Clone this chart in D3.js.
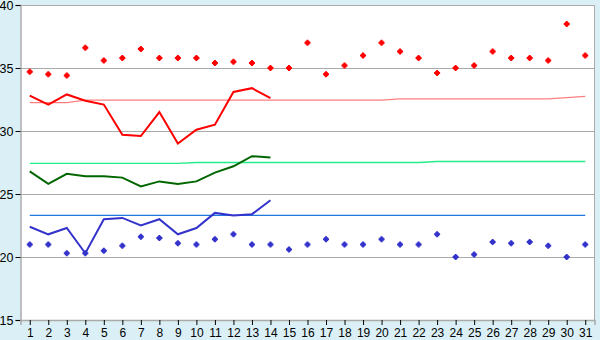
<!DOCTYPE html>
<html><head><meta charset="utf-8">
<script src="https://cdn.jsdelivr.net/npm/d3@7"></script>
<style>html,body{margin:0;padding:0;background:#daf0f6;}svg{display:block;}</style>
</head><body>
<svg id="c" width="600" height="340"></svg>
<script>
const days = d3.range(1, 32);
const maxTemp = [34.7,34.5,34.4,36.6,35.6,35.8,36.5,35.8,35.8,35.8,35.4,35.5,35.4,35.0,35.0,37.0,34.5,35.2,36.0,37.0,36.3,35.8,34.6,35.0,35.2,36.3,35.8,35.8,35.6,38.5,36.0];
const minTemp = [21.0,21.0,20.3,20.3,20.5,20.9,21.6,21.5,21.1,21.0,21.4,21.8,21.0,21.0,20.6,21.0,21.4,21.0,21.0,21.4,21.0,21.0,21.8,20.0,20.2,21.2,21.1,21.2,20.9,20.0,21.0];
const avgMax = [32.8,32.1,32.9,32.4,32.1,29.7,29.6,31.5,29.0,30.1,30.5,33.1,33.4,32.6];
const avgMean = [26.8,25.8,26.6,26.4,26.4,26.3,25.6,26.0,25.8,26.0,26.7,27.2,28.0,27.9];
const avgMin = [22.4,21.8,22.3,20.3,23.0,23.1,22.5,23.0,21.8,22.3,23.5,23.3,23.4,24.5];
const normMax = [32.25,32.25,32.25,32.45,32.45,32.45,32.45,32.45,32.45,32.45,32.45,32.45,32.45,32.45,32.45,32.45,32.45,32.45,32.45,32.45,32.55,32.55,32.55,32.55,32.55,32.55,32.55,32.55,32.55,32.65,32.75];
const normMean = [27.43,27.43,27.43,27.43,27.43,27.43,27.43,27.43,27.43,27.5,27.5,27.5,27.5,27.5,27.5,27.5,27.5,27.5,27.5,27.5,27.5,27.5,27.58,27.58,27.58,27.58,27.58,27.58,27.58,27.58,27.58];
const normMin = days.map(() => 23.3);
const yTicks = [15,20,25,30,35,40];

const svg = d3.select("#c");
const L = 20.5, R = 594.5, T = 5, B = 320;
const x = d3.scaleLinear().domain([0.5, 31.5]).range([L, R]);
const y = d3.scaleLinear().domain([15, 40]).range([B, T]);
const font = "Liberation Sans, Arial, sans-serif";

svg.append("rect").attr("x", L).attr("y", T).attr("width", R - L).attr("height", B - T).attr("fill", "#fff");

// grid
svg.append("g").selectAll("line").data(yTicks.filter(d => d > 15)).join("line")
  .attr("x1", L).attr("x2", R).attr("y1", d => Math.round(y(d)) + 0.5).attr("y2", d => Math.round(y(d)) + 0.5)
  .attr("stroke", "#aaaaaa").attr("stroke-width", 1).attr("shape-rendering", "crispEdges");
// right border
svg.append("line").attr("x1", R).attr("x2", R).attr("y1", T).attr("y2", B)
  .attr("stroke", "#aaaaaa").attr("stroke-width", 1.5).attr("shape-rendering", "crispEdges");

// axes
const yAxis = d3.axisLeft(y).tickValues(yTicks).tickSize(5).tickPadding(2).tickFormat(d3.format("d"));
const gy = svg.append("g").attr("transform", `translate(${L},0)`).call(yAxis);
gy.select(".domain").attr("stroke", "#aaaaaa").attr("stroke-width", 1.5);
gy.selectAll(".tick line").attr("stroke", "#000");
gy.selectAll("text").attr("font-family", font).attr("font-size", 12.5).attr("fill", "#000");

const xAxis = d3.axisBottom(x).tickValues(days).tickSize(5).tickPadding(3).tickFormat(d3.format("d"));
const gx = svg.append("g").attr("transform", `translate(0,${B})`).call(xAxis);
gx.select(".domain").attr("stroke", "#aaaaaa").attr("stroke-width", 1.5);
gx.selectAll(".tick line").attr("stroke", "#000");
gx.selectAll("text").attr("font-family", font).attr("font-size", 12).attr("fill", "#000");

const line = d3.line().x((d, i) => x(i + 1)).y(d => y(d));

// normals
[[normMax, "#ff7f7f"], [normMean, "#22ee88"], [normMin, "#2277dd"]].forEach(([data, c]) => {
  svg.append("path").datum(data).attr("d", line).attr("fill", "none")
    .attr("stroke", c).attr("stroke-width", 1.3);
});
// averages
[[avgMax, "#ff0000"], [avgMean, "#006600"], [avgMin, "#3333cc"]].forEach(([data, c]) => {
  svg.append("path").datum(data).attr("d", line).attr("fill", "none")
    .attr("stroke", c).attr("stroke-width", 2);
});

// markers
const cross = "M-1,-3h2v1h1v1h1v2h-1v1h-1v1h-2v-1h-1v-1h-1v-2h1v-1h1z";
[[maxTemp, "#ff0000"], [minTemp, "#3333cc"]].forEach(([data, c]) => {
  svg.append("g").selectAll("path").data(data).join("path")
    .attr("transform", (d, i) => `translate(${x(i + 1)},${y(d)})`)
    .attr("d", cross).attr("fill", c);
});
</script>
</body></html>
